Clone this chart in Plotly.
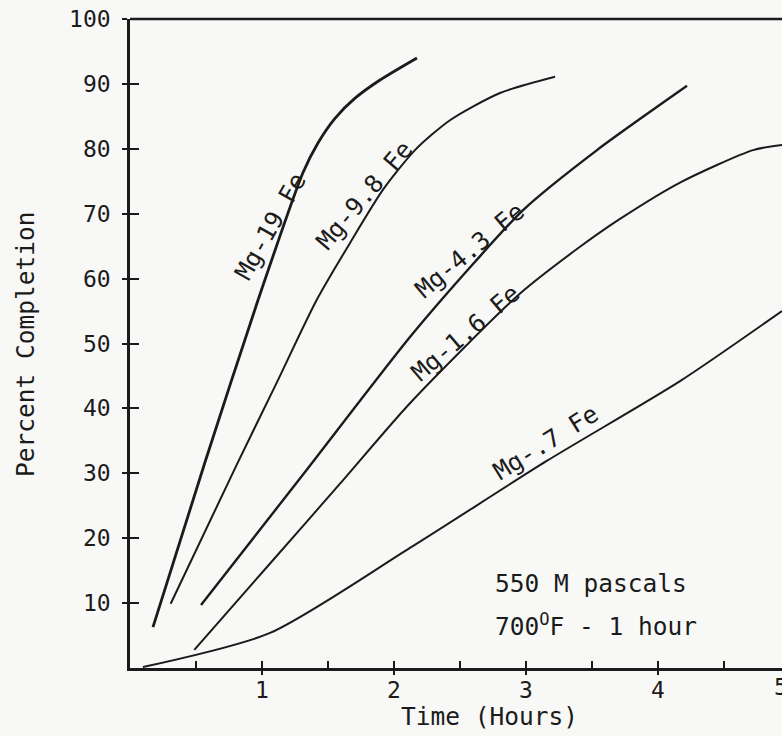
import plotly.graph_objects as go

# Percent completion vs. time (hours) for each Mg-Fe alloy
t_mg19 = [0.174, 0.568, 0.97, 1.31, 1.424, 1.553, 1.705, 1.894, 2.174]
v_mg19 = [6.3, 31.7, 56.7, 76.3, 80.9, 84.7, 87.8, 90.6, 94.0]

t_mg98 = [0.308, 0.808, 1.11, 1.414, 1.667, 1.917, 2.159, 2.424, 2.803, 3.220]
v_mg98 = [9.9, 31.3, 43.9, 56.7, 65.5, 73.7, 79.8, 84.4, 88.6, 91.1]

t_mg43 = [0.538, 1.326, 2.121, 2.614, 2.980, 3.538, 4.220]
v_mg43 = [9.7, 30.2, 51.0, 62.6, 70.6, 79.8, 89.7]

t_mg16 = [0.487, 1.061, 1.591, 2.121, 2.955, 3.409, 3.712, 4.167, 4.720, 4.939]
v_mg16 = [2.8, 16.1, 28.4, 40.8, 57.7, 64.9, 69.2, 74.8, 79.8, 80.6]

t_mg07 = [0.098, 1.061, 2.121, 3.157, 4.167, 4.939]
v_mg07 = [0.15, 5.4, 18.5, 31.9, 44.2, 55.0]

x_ticks = [1, 2, 3, 4]
x_half_ticks = [0.5, 1.5, 2.5, 3.5, 4.5]
y_ticks = [10, 20, 30, 40, 50, 60, 70, 80, 90, 100]
y_inner_ticks = [10, 20, 30, 40, 50, 60, 70, 80, 90]

INK = "#1b1b1b"
PAPER = "#f8f8f6"
MONO = "DejaVu Sans Mono"
X_RANGE = [0, 4.9394]
Y_RANGE = [0, 100]

series = [
    (t_mg19, v_mg19, 2.8),
    (t_mg98, v_mg98, 2.0),
    (t_mg43, v_mg43, 2.4),
    (t_mg16, v_mg16, 2.0),
    (t_mg07, v_mg07, 2.0),
]

fig = go.Figure()
for t, v, w in series:
    fig.add_trace(go.Scatter(
        x=t, y=v, mode="lines",
        line=dict(color=INK, width=w, shape="spline", smoothing=0.7),
        showlegend=False, hoverinfo="skip",
    ))

# empty traces so the extra tick-only axes get drawn
for xa, ya in (("x2", "y2"), ("x3", "y")):
    fig.add_trace(go.Scatter(x=[None], y=[None], xaxis=xa, yaxis=ya,
                             showlegend=False, hoverinfo="skip"))

tick_font = dict(family=MONO, size=23, color=INK)
bare = dict(showticklabels=False, showgrid=False, zeroline=False, showline=False,
            tickwidth=2, tickcolor=INK)

fig.update_layout(
    width=782, height=736,
    margin=dict(l=130, r=0, t=19, b=68),
    paper_bgcolor=PAPER, plot_bgcolor=PAPER,
    font=dict(family=MONO, color=INK),
    xaxis=dict(
        range=X_RANGE, showline=True, linecolor=INK, linewidth=2.5,
        ticks="inside", tickvals=x_ticks, ticklen=7, tickwidth=2, tickcolor=INK,
        tickfont=tick_font, showgrid=False, zeroline=False,
    ),
    yaxis=dict(
        range=Y_RANGE, showline=True, linecolor=INK, linewidth=2.5,
        ticks="outside", tickvals=y_ticks, ticklen=5, tickwidth=2, tickcolor=INK,
        tickfont=tick_font, showgrid=False, zeroline=False, ticklabelstandoff=7,
    ),
    # half-hour marks above the time axis
    xaxis2=dict(overlaying="x", anchor="y", side="bottom", range=X_RANGE,
                ticks="inside", tickvals=x_half_ticks, ticklen=7, **bare),
    # whole-hour marks crossing below the time axis
    xaxis3=dict(overlaying="x", anchor="y", side="bottom", range=X_RANGE,
                ticks="outside", tickvals=x_ticks, ticklen=6, **bare),
    # inner half of the crossing marks on the percent axis
    yaxis2=dict(overlaying="y", anchor="x", side="left", range=Y_RANGE,
                ticks="inside", tickvals=y_inner_ticks, ticklen=9, **bare),
    shapes=[dict(type="line", xref="paper", yref="paper", x0=0, x1=1, y0=1, y1=1,
                 line=dict(color=INK, width=2.5))],
)

label_font = dict(family=MONO, size=24.5, color=INK)
curve_labels = [
    ("Mg-19 Fe", 1.061, 68.1, -60.5),
    ("Mg-9.8 Fe", 1.780, 72.9, -49.6),
    ("Mg-4.3 Fe", 2.569, 64.4, -39.9),
    ("Mg-1.6 Fe", 2.544, 51.7, -40.5),
    ("Mg-.7 Fe", 3.150, 34.7, -31.9),
]
for text, x, y, ang in curve_labels:
    fig.add_annotation(text=text, x=x, y=y, xref="x", yref="y", showarrow=False,
                       textangle=ang, font=label_font, xanchor="center", yanchor="middle")

fig.add_annotation(text="550 M pascals", x=0.557, y=0.130, xref="paper", yref="paper",
                   showarrow=False, font=label_font, xanchor="left", yanchor="middle")
fig.add_annotation(text="700<sup>O</sup>F - 1 hour", x=0.557, y=0.066, xref="paper", yref="paper",
                   showarrow=False, font=label_font, xanchor="left", yanchor="middle")
fig.add_annotation(text="Time (Hours)", x=0.552, y=-0.0755, xref="paper", yref="paper",
                   showarrow=False, font=label_font, xanchor="center", yanchor="middle")
fig.add_annotation(text="Percent Completion", x=-0.161, y=0.4992, xref="paper", yref="paper",
                   showarrow=False, font=label_font, textangle=-90,
                   xanchor="center", yanchor="middle")
# last x tick label sits at the right edge of the frame
fig.add_annotation(text="5", x=0.9985, y=-0.030, xref="paper", yref="paper",
                   showarrow=False, font=tick_font, xanchor="center", yanchor="middle")

fig.write_html("out.html")
